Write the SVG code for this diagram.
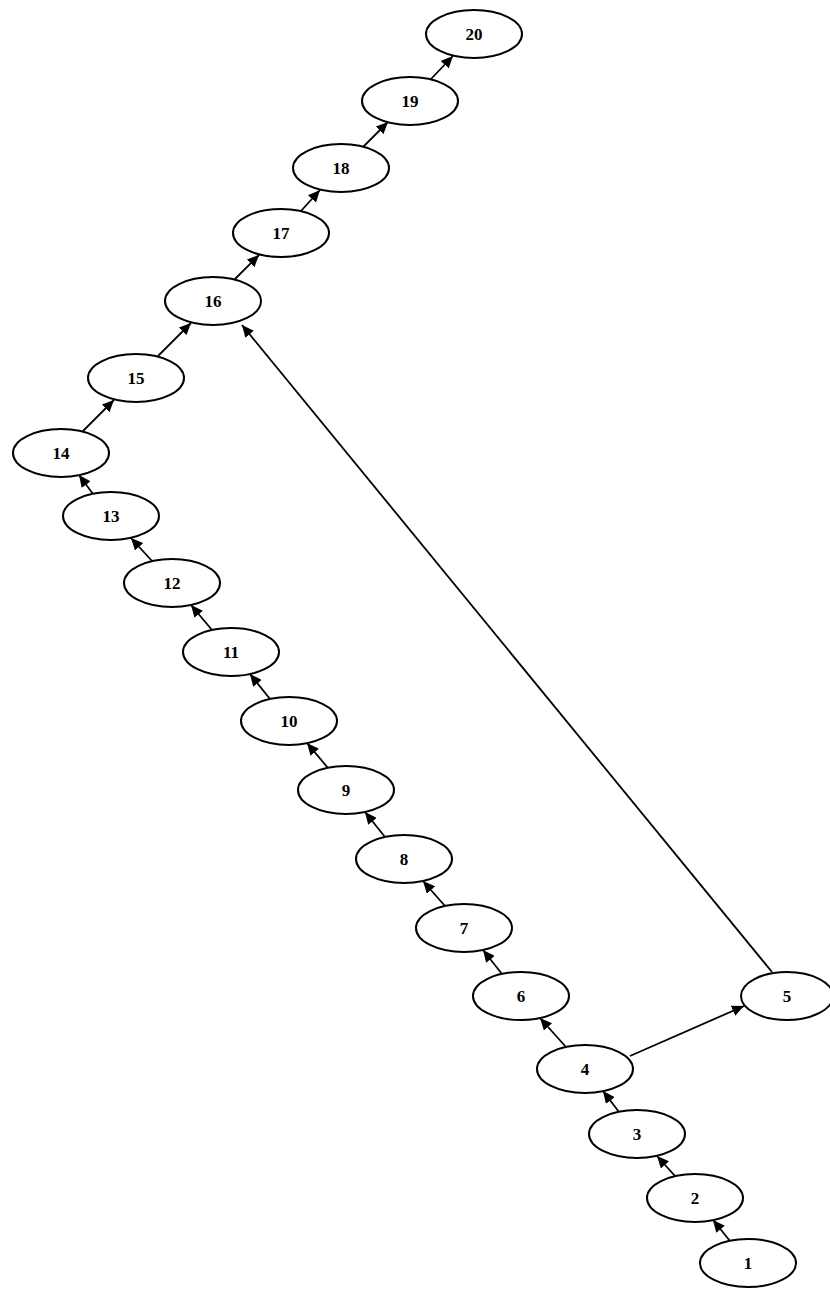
<svg xmlns="http://www.w3.org/2000/svg" width="830" height="1290" viewBox="0 0 830 1290">
<style>
.n ellipse{fill:#ffffff;stroke:#000000;stroke-width:2}
.n text{font-family:"Liberation Serif","Times New Roman",serif;font-size:17px;font-weight:bold;fill:#000000;text-anchor:middle;dominant-baseline:central}
.e line{stroke:#000000;stroke-width:1.8;fill:none;marker-end:url(#ah)}
</style>
<defs>
<marker id="ah" markerUnits="userSpaceOnUse" markerWidth="13" markerHeight="11" refX="12" refY="5.5" orient="auto">
<path d="M0,0 L12,5.5 L0,11 z" fill="#000000"/>
</marker>
</defs>
<rect width="830" height="1290" fill="#ffffff"/>
<g id="edges" class="e">
<line x1="730" y1="1241" x2="713" y2="1220"/>
<line x1="675" y1="1176" x2="657" y2="1156"/>
<line x1="619" y1="1112" x2="603" y2="1091"/>
<line x1="566" y1="1047" x2="540" y2="1018"/>
<line x1="630" y1="1056" x2="744" y2="1006"/>
<line x1="772" y1="972" x2="242" y2="325"/>
<line x1="502" y1="974" x2="483" y2="950"/>
<line x1="445" y1="906" x2="423" y2="881"/>
<line x1="385" y1="837" x2="365" y2="812"/>
<line x1="328" y1="768" x2="307" y2="743"/>
<line x1="270" y1="699" x2="250" y2="674"/>
<line x1="212" y1="630" x2="191" y2="605"/>
<line x1="152" y1="561" x2="131" y2="538"/>
<line x1="93" y1="494" x2="79" y2="475"/>
<line x1="83" y1="431" x2="114" y2="400"/>
<line x1="158" y1="356" x2="191" y2="323"/>
<line x1="235" y1="279" x2="259" y2="255"/>
<line x1="301" y1="211" x2="320" y2="190"/>
<line x1="363" y1="147" x2="388" y2="122"/>
<line x1="431" y1="79" x2="453" y2="56"/>
</g>
<g id="node1" class="n"><ellipse cx="748" cy="1263" rx="48" ry="24"/><text x="748" y="1263">1</text></g>
<g id="node2" class="n"><ellipse cx="695" cy="1198" rx="48" ry="24"/><text x="695" y="1198">2</text></g>
<g id="node3" class="n"><ellipse cx="637" cy="1134" rx="48" ry="24"/><text x="637" y="1134">3</text></g>
<g id="node4" class="n"><ellipse cx="585" cy="1069" rx="48" ry="24"/><text x="585" y="1069">4</text></g>
<g id="node5" class="n"><ellipse cx="787" cy="996" rx="46" ry="24"/><text x="787" y="996">5</text></g>
<g id="node6" class="n"><ellipse cx="521" cy="996" rx="48" ry="24"/><text x="521" y="996">6</text></g>
<g id="node7" class="n"><ellipse cx="464" cy="928" rx="48" ry="24"/><text x="464" y="928">7</text></g>
<g id="node8" class="n"><ellipse cx="404" cy="859" rx="48" ry="24"/><text x="404" y="859">8</text></g>
<g id="node9" class="n"><ellipse cx="346" cy="790" rx="48" ry="24"/><text x="346" y="790">9</text></g>
<g id="node10" class="n"><ellipse cx="289" cy="721" rx="48" ry="24"/><text x="289" y="721">10</text></g>
<g id="node11" class="n"><ellipse cx="231" cy="652" rx="48" ry="24"/><text x="231" y="652">11</text></g>
<g id="node12" class="n"><ellipse cx="172" cy="583" rx="48" ry="24"/><text x="172" y="583">12</text></g>
<g id="node13" class="n"><ellipse cx="111" cy="516" rx="48" ry="24"/><text x="111" y="516">13</text></g>
<g id="node14" class="n"><ellipse cx="61" cy="453" rx="48" ry="24"/><text x="61" y="453">14</text></g>
<g id="node15" class="n"><ellipse cx="136" cy="378" rx="48" ry="24"/><text x="136" y="378">15</text></g>
<g id="node16" class="n"><ellipse cx="213" cy="301" rx="48" ry="24"/><text x="213" y="301">16</text></g>
<g id="node17" class="n"><ellipse cx="281" cy="233" rx="48" ry="24"/><text x="281" y="233">17</text></g>
<g id="node18" class="n"><ellipse cx="341" cy="168" rx="48" ry="24"/><text x="341" y="168">18</text></g>
<g id="node19" class="n"><ellipse cx="410" cy="101" rx="48" ry="24"/><text x="410" y="101">19</text></g>
<g id="node20" class="n"><ellipse cx="474" cy="34" rx="48" ry="24"/><text x="474" y="34">20</text></g>
</svg>
